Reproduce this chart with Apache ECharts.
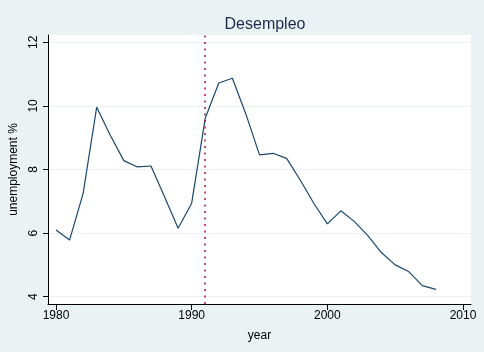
<!DOCTYPE html>
<html>
<head>
<meta charset="utf-8">
<script src="https://cdn.jsdelivr.net/npm/echarts@6/dist/echarts.min.js"></script>
<style>
  html, body { margin: 0; padding: 0; background: #eaf2f3; }
  #chart { width: 484px; height: 352px; }
</style>
</head>
<body>
<div id="chart"></div>
<script>
// year and unemployment rate
const years = [1980, 1981, 1982, 1983, 1984, 1985, 1986, 1987, 1988, 1989,
  1990, 1991, 1992, 1993, 1994, 1995, 1996, 1997, 1998, 1999,
  2000, 2001, 2002, 2003, 2004, 2005, 2006, 2007, 2008];
const unemployment = [6.10, 5.78, 7.25, 9.96, 9.08, 8.28, 8.08, 8.11, 7.14, 6.15,
  6.94, 9.61, 10.72, 10.87, 9.74, 8.46, 8.51, 8.35, 7.67, 6.94,
  6.29, 6.70, 6.36, 5.91, 5.38, 5.00, 4.79, 4.35, 4.23];
const xTicks = [1980, 1990, 2000, 2010];
const yTicks = [4, 6, 8, 10, 12];
const markYear = 1991;

const chart = echarts.init(document.getElementById("chart"));
const font = "Liberation Sans, Arial, sans-serif";

chart.setOption({
  backgroundColor: "#eaf2f3",
  animation: false,
  title: {
    text: "Desempleo",
    left: 260,
    top: 12,
    textAlign: "center",
    textStyle: { fontFamily: font, fontSize: 16, fontWeight: "normal", color: "#1c2a4c" },
  },
  grid: {
    left: 48,
    right: 13,
    top: 35,
    bottom: 48,
    show: true,
    backgroundColor: "#ffffff",
    borderWidth: 0,
  },
  xAxis: {
    type: "value",
    min: 1979.41,
    max: 2010.59,
    name: "year",
    nameLocation: "middle",
    nameGap: 26,
    nameTextStyle: { fontFamily: font, fontSize: 12, color: "#000" },
    axisLine: { onZero: false, lineStyle: { color: "#000", width: 1 } },
    axisTick: { customValues: xTicks, length: 6, lineStyle: { color: "#000" } },
    axisLabel: {
      customValues: xTicks,
      margin: 6,
      fontFamily: font,
      fontSize: 12,
      color: "#000",
      formatter: (v) => String(v),
    },
    splitLine: { show: false },
  },
  yAxis: {
    type: "value",
    min: 3.77,
    max: 12.23,
    name: "unemployment %",
    nameLocation: "middle",
    nameGap: 28,
    nameTextStyle: { fontFamily: font, fontSize: 12, color: "#000" },
    axisLine: { show: true, onZero: false, lineStyle: { color: "#000", width: 1 } },
    axisTick: { show: true, customValues: yTicks, length: 5, lineStyle: { color: "#000" } },
    axisLabel: {
      customValues: yTicks,
      rotate: 90,
      margin: 8,
      fontFamily: font,
      fontSize: 12,
      color: "#000",
    },
    splitLine: { show: true, lineStyle: { color: "#eaf2f3", width: 1 } },
  },
  series: [
    {
      type: "line",
      data: years.map((y, i) => [y, unemployment[i]]),
      symbol: "none",
      lineStyle: { color: "#1a476f", width: 1.2 },
      markLine: {
        silent: true,
        symbol: "none",
        label: { show: false },
        lineStyle: { color: "#b0123a", type: [2, 4.5], width: 1.5 },
        data: [{ xAxis: markYear }],
      },
    },
  ],
});
</script>
</body>
</html>
